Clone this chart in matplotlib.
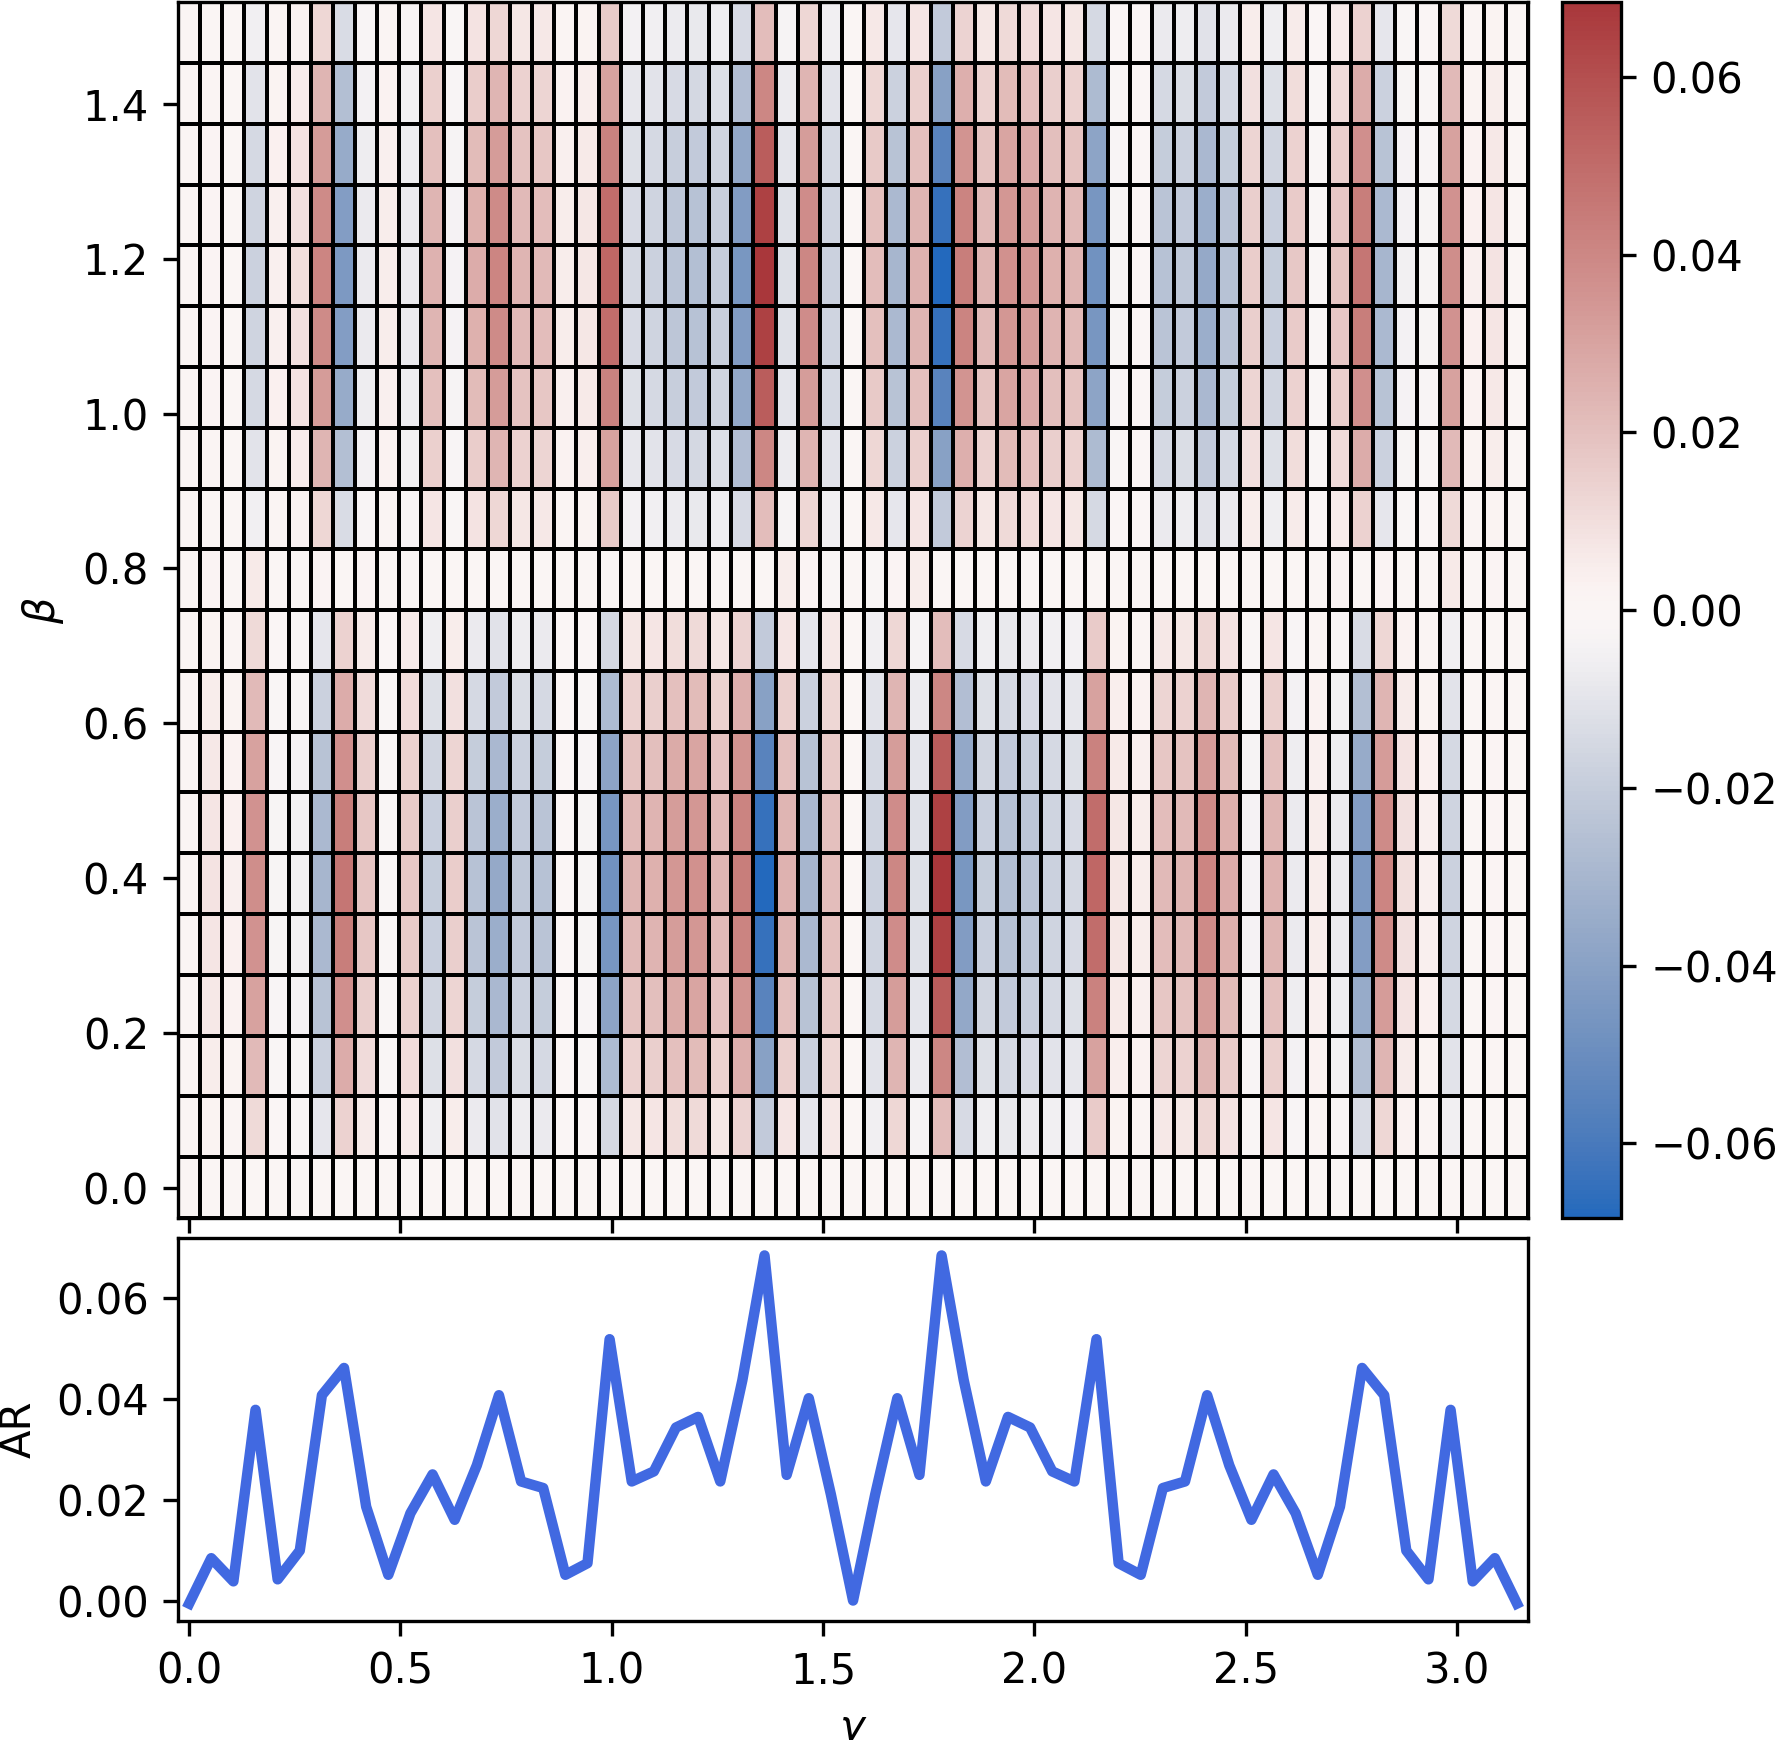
import numpy as np
import matplotlib.pyplot as plt
import seaborn as sns

# grid of angles
gamma = np.linspace(0, np.pi, 61)
beta = np.arange(20) * np.pi / 40

# AR along gamma (bottom panel)
ar = [-0.0006, 0.0084, 0.0038, 0.0378, 0.0042, 0.0099, 0.0407, 0.0461, 0.0186, 0.0051,
      0.0173, 0.0250, 0.0160, 0.0268, 0.0407, 0.0236, 0.0223, 0.0051, 0.0074, 0.0518,
      0.0236, 0.0256, 0.0343, 0.0364, 0.0236, 0.0437, 0.0684, 0.0249, 0.0401, 0.0210,
      0.0000,
      0.0210, 0.0401, 0.0249, 0.0684, 0.0437, 0.0236, 0.0364, 0.0343, 0.0256, 0.0236,
      0.0518, 0.0074, 0.0051, 0.0223, 0.0236, 0.0407, 0.0268, 0.0160, 0.0250, 0.0173,
      0.0051, 0.0186, 0.0461, 0.0407, 0.0099, 0.0042, 0.0378, 0.0038, 0.0084, -0.0006]

# signed value at the centre of the lower lobe (beta ~ 0.39) per gamma column
lower_peak = [0.0, 0.0084, 0.0038, 0.0378, -0.003, -0.005, -0.030, 0.0461, 0.0186, -0.002,
              0.0173, -0.020, 0.0160, -0.025, -0.036, -0.022, -0.025, -0.001, -0.003, -0.048,
              0.0236, 0.0256, 0.0343, 0.0364, 0.0236, 0.0437, -0.068, 0.0249, -0.030, 0.0210,
              0.0,
              -0.018, 0.0401, -0.012, 0.0684, -0.045, -0.020, -0.026, -0.024, -0.018, -0.015,
              0.0518, 0.0074, 0.0051, 0.0223, 0.0236, 0.0407, 0.0268, -0.004, 0.0250, -0.008,
              0.0051, -0.008, -0.044, 0.0407, 0.0099, 0.0042, -0.018, 0.001, 0.002, 0.0]

# signed value at the centre of the upper lobe (beta ~ 1.18) per gamma column
upper_peak = [0.0, 0.002, 0.001, -0.018, 0.0042, 0.0099, 0.0407, -0.044, -0.008, 0.0051,
              -0.008, 0.0250, -0.004, 0.0268, 0.0407, 0.0236, 0.0223, 0.0051, 0.0074, 0.0518,
              -0.015, -0.018, -0.024, -0.026, -0.020, -0.045, 0.0684, -0.012, 0.0401, -0.018,
              0.0,
              0.0210, -0.030, 0.0249, -0.068, 0.0437, 0.0236, 0.0364, 0.0343, 0.0256, 0.0236,
              -0.048, -0.003, -0.001, -0.025, -0.022, -0.036, -0.025, 0.0160, -0.020, 0.0173,
              -0.002, 0.0186, 0.0461, -0.030, -0.005, -0.003, 0.0378, 0.0038, 0.0084, 0.0]

# row at beta = pi/4 (between the lobes)
mid_row = [0.0, 0.002, 0.0, 0.006, 0.0, 0.0, 0.002, 0.0, 0.002, 0.0,
           0.0, 0.0, 0.0, 0.0, 0.0, 0.0, 0.0, 0.0, 0.0, 0.0,
           0.0, 0.0, 0.0, 0.0, 0.0, 0.0, 0.0, 0.005, 0.002, -0.002,
           0.0,
           -0.002, 0.002, 0.005, 0.0, 0.0, 0.0, 0.0, 0.0, 0.0, 0.0,
           0.0, 0.0, 0.0, 0.0, 0.0, 0.0, 0.0, 0.0, 0.0, 0.0,
           0.0, 0.002, 0.0, 0.002, 0.0, 0.0, 0.006, 0.0, 0.002, 0.0]

# relative strength of each beta row inside a lobe
lobe_shape = [0.0, 0.31, 0.59, 0.81, 0.95, 1.0, 0.95, 0.81, 0.59, 0.31]

lower = np.outer(lobe_shape, lower_peak)
upper = np.outer(lobe_shape[1:], upper_peak)
grid = np.vstack([lower, np.array(mid_row)[None, :], upper])
vmax = np.abs(grid).max()

fig = plt.figure(figsize=(1777 / 300, 1740 / 300), dpi=300)
ax = fig.add_axes([0.1002, 0.3000, 0.7597, 0.6987])
cax = fig.add_axes([0.8790, 0.3000, 0.0332, 0.6987])
ax2 = fig.add_axes([0.1002, 0.0684, 0.7597, 0.2201], sharex=ax)

mesh = ax.pcolormesh(gamma, beta, grid, cmap="vlag", vmin=-vmax, vmax=vmax,
                     shading="nearest", edgecolors="black", linewidth=0.5)
ax.set_ylabel(r"$\beta$")
ax.tick_params(labelbottom=False)
fig.colorbar(mesh, cax=cax)

ax2.plot(gamma, ar, color="royalblue", linewidth=2.5)
ax2.set_ylabel("AR")
ax2.set_xlabel(r"$\gamma$")

plt.savefig("out.png", dpi=300)
